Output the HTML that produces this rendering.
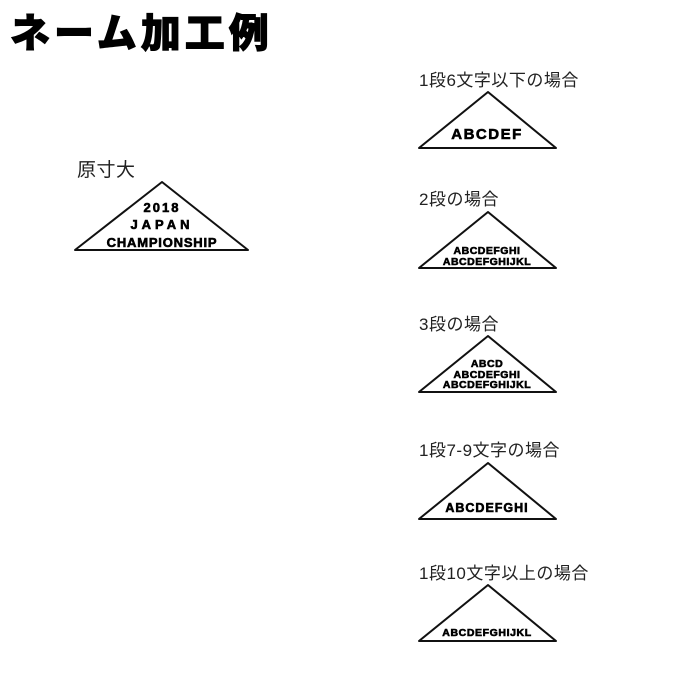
<!DOCTYPE html>
<html><head><meta charset="utf-8"><style>
html,body{margin:0;padding:0;background:#fff;width:700px;height:700px;overflow:hidden}
svg{display:block}
.jp{font-family:"Liberation Sans","Noto Sans CJK JP",sans-serif;fill:#222;letter-spacing:0.5px}
.b{font-family:"Liberation Sans",sans-serif;font-weight:bold;fill:#000;text-anchor:middle;stroke:#000;stroke-width:0.6}
.t{fill:#fff;stroke:#111;stroke-width:2;stroke-linejoin:round}
</style></head><body>
<svg width="700" height="700" viewBox="0 0 700 700">
<text x="10" y="47" class="jp" style="font-weight:900;font-size:40px;fill:#000;letter-spacing:4px;stroke:#000;stroke-width:1">ネーム加工例</text>

<text x="77" y="176" class="jp" style="font-size:19px">原寸大</text>
<polygon class="t" points="75,250 162,182 248,250"/>
<text x="162" y="212" class="b" style="font-size:13px;letter-spacing:2px">2018</text>
<text x="162" y="229" class="b" style="font-size:13px;letter-spacing:4px">JAPAN</text>
<text x="162" y="247" class="b" style="font-size:13px;letter-spacing:0.8px">CHAMPIONSHIP</text>

<text x="419" y="86" class="jp" style="font-size:17px">1段6文字以下の場合</text>
<polygon class="t" points="419,148 488,92 556,148"/>
<text x="487" y="139" class="b" style="font-size:15px;letter-spacing:1.5px">ABCDEF</text>

<text x="419" y="205" class="jp" style="font-size:17px">2段の場合</text>
<polygon class="t" points="419,268 488,212 556,268"/>
<text x="487" y="254" class="b" style="font-size:10.5px;letter-spacing:0.5px">ABCDEFGHI</text>
<text x="487" y="265" class="b" style="font-size:10.5px;letter-spacing:0.5px">ABCDEFGHIJKL</text>

<text x="419" y="330" class="jp" style="font-size:17px">3段の場合</text>
<polygon class="t" points="419,392 488,336 556,392"/>
<text x="487" y="367" class="b" style="font-size:10.5px;letter-spacing:0.5px">ABCD</text>
<text x="487" y="378" class="b" style="font-size:10.5px;letter-spacing:0.5px">ABCDEFGHI</text>
<text x="487" y="388" class="b" style="font-size:10.5px;letter-spacing:0.5px">ABCDEFGHIJKL</text>

<text x="419" y="456" class="jp" style="font-size:17px">1段7-9文字の場合</text>
<polygon class="t" points="419,519 488,463 556,519"/>
<text x="487" y="512" class="b" style="font-size:12.5px;letter-spacing:1px">ABCDEFGHI</text>

<text x="419" y="579" class="jp" style="font-size:17px">1段10文字以上の場合</text>
<polygon class="t" points="419,641 488,585 556,641"/>
<text x="487" y="636" class="b" style="font-size:10.5px;letter-spacing:0.6px">ABCDEFGHIJKL</text>
</svg>
</body></html>
